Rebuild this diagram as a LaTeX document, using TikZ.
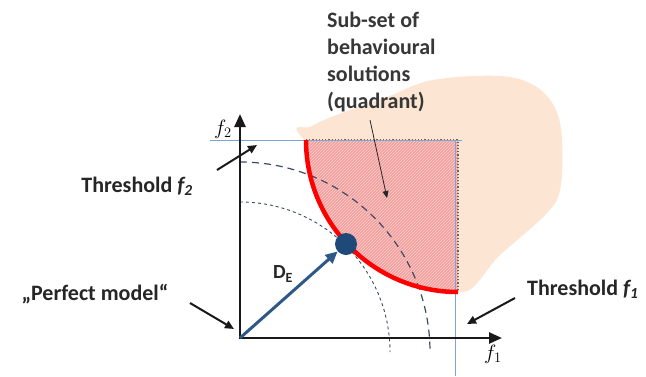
\documentclass[tikz,border=0pt]{standalone}
\usepackage{fontspec}
\setmainfont{Carlito}
\usetikzlibrary{arrows.meta,patterns}
\definecolor{peach}{RGB}{252,229,210}
\definecolor{quadred}{RGB}{244,158,156}
\definecolor{thblue}{RGB}{125,165,205}
\definecolor{navy}{RGB}{31,73,120}
\definecolor{steel}{RGB}{46,88,134}
\definecolor{arcgray}{RGB}{60,75,100}
\definecolor{txtgray}{RGB}{55,55,55}
\tikzset{
  lbl/.style={font=\fontsize{22}{27}\selectfont\bfseries, text=black!85, inner sep=0pt},
  ptr/.style={-{Triangle[length=9pt,width=8pt]}, line width=2pt, black!90},
  axis/.style={-{Triangle[length=13pt,width=11pt]}, line width=2.5pt, black!90},
  thline/.style={thblue, line width=1pt},
}
\begin{document}
\begin{tikzpicture}[x=1pt,y=-1pt]
\useasboundingbox (0,0) rectangle (646,376);
\fill[white] (0,0) rectangle (646,376);
% blob of behavioural solutions
\fill[peach] plot[smooth cycle, tension=0.6] coordinates {(304,140) (312,126) (350,110) (387,97) (433,80) (500,76) (535,86) (555,108) (562,140) (560,190) (545,215) (500,255) (462,292) (420,250)};
% quadrant
\coordinate (qtl) at (306,140);
\coordinate (qtr) at (458,140);
\coordinate (qbr) at (458,292);
\fill[quadred] (qtl) -- (qtr) -- (qbr) arc[start angle=90, end angle=180, radius=152] -- cycle;
\fill[pattern=north east lines, pattern color=white!55!quadred] (qtl) -- (qtr) -- (qbr) arc[start angle=90, end angle=180, radius=152] -- cycle;
\draw[black!60, line width=1.2pt, dotted] (qtl) -- (qtr) -- (qbr);
% dashed arcs
\coordinate (ac) at (240,352);
\draw[arcgray, line width=0.9pt, dash pattern=on 3pt off 3pt] (240,202) arc[start angle=270, end angle=360, radius=150];
\draw[arcgray, line width=1.2pt, dash pattern=on 7pt off 5pt] (240,162) arc[start angle=270, end angle=360, radius=190];
% thresholds
\draw[thline] (210,140) -- (462,140);
\draw[thline] (455,140) -- (455,376);
% red front
\draw[red, line width=4.5pt] (qtl) arc[start angle=180, end angle=90, radius=152];
% axes
\coordinate (O) at (240,338);
\coordinate (ytip) at (240,114);
\coordinate (xtip) at (502,338);
\draw[axis] (240,339.25) -- (ytip);
\draw[axis] (238.75,338) -- (xtip);
\node[font=\fontsize{20}{20}\selectfont] (f2) at (223,129) {$f_2$};
\node[font=\fontsize{20}{20}\selectfont] (f1) at (493,354) {$f_1$};
% optimal point and distance
\node[circle, fill=navy, minimum size=22pt, inner sep=0pt] (dot) at (346,244) {};
\draw[steel, line width=3pt, -{Triangle[length=12pt,width=11pt]}] (O) -- (dot);
\node[font=\fontsize{20}{20}\selectfont\bfseries, text=black!85] (de) at (283,274) {D\textsubscript{E}};
% labels
\node[lbl, anchor=north west, align=left, text=txtgray] (sub) at (327,12) {Sub-set of\\behavioural\\solutions\\(quadrant)};
\coordinate (subs) at (370,120);
\coordinate (subt) at (387,198);
\draw[black!85, line width=0.8pt, -{Triangle[length=7pt,width=6pt]}] (subs) -- (subt);
\node[lbl] (th2) at (137,186) {Threshold \textit{f\textsubscript{2}}};
\coordinate (th2s) at (217,170);
\coordinate (th2t) at (257,145);
\draw[ptr] (th2s) -- (th2t);
\node[lbl] (pm) at (95,294) {„Perfect model“};
\coordinate (pms) at (190,303);
\coordinate (pmt) at (234,329);
\draw[ptr] (pms) -- (pmt);
\node[lbl, anchor=west] (th1) at (527,289) {Threshold \textit{f\textsubscript{1}}};
\coordinate (th1s) at (515,298);
\coordinate (th1t) at (467,324);
\draw[ptr] (th1s) -- (th1t);
\end{tikzpicture}
\end{document}
